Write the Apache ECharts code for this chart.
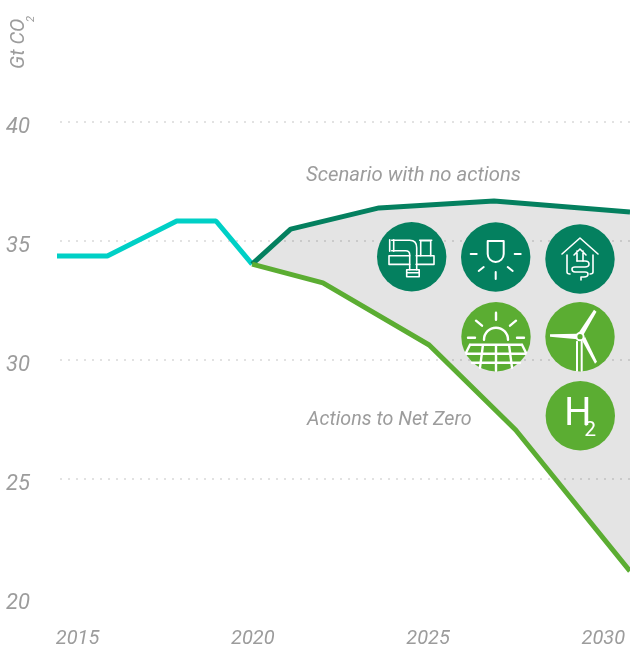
<!DOCTYPE html>
<html><head><meta charset="utf-8">
<style>html,body{margin:0;padding:0;background:#fff}#c{width:630px;height:648px}</style>
<script src="https://cdn.jsdelivr.net/npm/echarts@6/dist/echarts.min.js"></script>
</head><body><div id="c"></div>
<script>
const xTicks = [2015, 2020, 2025, 2030];
const yTicks = [20, 25, 30, 35, 40];
const historyYears = [2014.35, 2015.85, 2017.83, 2018.95, 2019.98];
const historyValues = [34.37, 34.37, 35.84, 35.84, 34.03];
const noActionYears = [2019.98, 2021.08, 2023.6, 2026.88, 2030.76];
const noActionValues = [34.03, 35.5, 36.39, 36.68, 36.22];
const netZeroYears = [2019.98, 2022, 2025.03, 2027.5, 2030.76];
const netZeroValues = [34.03, 33.24, 30.63, 27.06, 21.13];

const FONT = 'Roboto,sans-serif';
const GREY = '#9c9c9c', DARK = '#04805f', LIGHT = '#5bad32', CYAN = '#00d0c6';
const zip = (a, b) => a.map((v, i) => [v, b[i]]);

function line(pathData, w) {
  return {type:'path', shape:{pathData}, style:{fill:null, stroke:'#fff', lineWidth:w||1.6, lineCap:'round', lineJoin:'round'}};
}
function fillPath(pathData) {
  return {type:'path', shape:{pathData}, style:{fill:'#fff', stroke:null}};
}
function icon(x, y, color, kids) {
  return {type:'group', x, y, children:[{type:'circle', shape:{cx:0, cy:0, r:34.7}, style:{fill:color}}].concat(kids)};
}

const icons = [
  icon(411.7, 256.7, DARK, [
    line('M-22.7,-1 H-2 M4.5,-1 H22.3 V7.7 H4.5 M-2,7.7 H-22.7 V-1'),
    line('M-20,-16.5 H-2 Q5,-16.5 5,-9 V13 M-20,-6 H-6 Q-2,-6 -2,-2 V13'),
    line('M-22,-17 V-5.5 M-18,-17 V-5.5'),
    line('M-5,13 H7.5 V20 H-5 Z M-4,16 H7'),
    line('M9,-16 H19 V-1 M9,-16 V-1 M8,-16.5 H20')
  ]),
  icon(495.7, 257, DARK, [
    line('M-8,-16 H8 V-3 A8,8 0 0 1 -8,-3 Z', 2),
    line('M-25,-3 H-19 M19,-3 H25 M0,15 V22 M-17,14 L-12,10 M17,14 L12,10', 2)
  ]),
  icon(580, 259, DARK, [
    line('M-18,-5 L0,-21 L18,-5'),
    line('M-13,-4 V13 Q-13,15 -10,15 M13,-4 V13 Q13,15 10,15'),
    line('M-6,-4 L0,-10 L6,-4 M-3,-8 V2 M3,-8 V2'),
    line('M-3,2 H5 Q9,2 9,5 Q9,8 5,8 H-5 Q-8,8 -8,10 Q-8,13 -5,13 H5 Q8,13 8,15 Q8,18 4,18 H1 V21')
  ]),
  icon(496, 336.7, LIGHT, [
    line('M0,-24 V-17 M-20,-16 L-14,-11 M20,-16 L14,-11 M-28,1 H-21 M28,1 H21 M-12,3 A12,12 0 0 1 12,3', 2.4),
    line('M-26,8 H26 M-29.5,17 H29.5 M-24,26 H24 M-13,8 L-16,31 M0,8 V34 M13,8 L16,31 M-26,8 L-30,16 M26,8 L30,16', 2.4)
  ]),
  icon(580, 336.7, LIGHT, [
    fillPath('M-2,-3 L14,-27 L16.5,-25 L3.5,-2 Z'),
    fillPath('M-3,-3 L-30,-2.5 L-30,0 L-2.5,2.5 Z'),
    fillPath('M2,3.5 L15,27 L17,25 L5,0 Z'),
    {type:'circle', shape:{cx:0, cy:0, r:3.6}, style:{fill:LIGHT, stroke:'#fff', lineWidth:2}},
    line('M-3,5 V34 M1.7,5 V34', 2)
  ]),
  icon(580.3, 415.7, LIGHT, [
    {type:'text', style:{x:-16, y:0, text:'H', font:'400 38px Roboto', fill:'#fff', verticalAlign:'middle'}},
    {type:'text', style:{x:4, y:15, text:'2', font:'400 21px Roboto', fill:'#fff', verticalAlign:'middle'}}
  ])
];

const chart = echarts.init(document.getElementById('c'), null, {renderer:'canvas'});
chart.setOption({
  animation:false,
  backgroundColor:'#fff',
  grid:{left:60, right:0, top:122, bottom:50, outerBoundsMode:'none'},
  xAxis:{type:'value', min:2014.5, max:2030.76, axisLine:{show:false}, axisTick:{show:false}, splitLine:{show:false},
    axisLabel:{customValues:xTicks, fontFamily:FONT, fontStyle:'italic', fontSize:20, color:GREY, margin:31, hideOverlap:false,
      formatter:v=>String(v)}},
  yAxis:{type:'value', min:20, max:40, interval:5, axisLine:{show:false}, axisTick:{show:false},
    axisLabel:{fontFamily:FONT, fontStyle:'italic', fontSize:22, color:GREY, margin:54, align:'left', verticalAlign:'top', lineHeight:10,
      formatter:v=>String(v), showMinLabel:true, showMaxLabel:true},
    splitLine:{showMinLine:false, show:true, lineStyle:{color:'#e2e2e2', width:2, type:[2,6]}}},
  graphic:[
    {type:'group', x:29, y:69, rotation:Math.PI/2, z:10, children:[
      {type:'text', x:0, y:0, style:{text:'Gt CO', font:'italic 20px '+FONT, fill:GREY, textAlign:'left', textVerticalAlign:'bottom'}},
      {type:'text', x:47, y:8, style:{text:'2', font:'italic 11px '+FONT, fill:GREY, textAlign:'left', textVerticalAlign:'bottom'}}
    ]},
    {type:'text', x:306, y:166, z:10, style:{text:'Scenario with no actions', font:'italic 20.3px '+FONT, fill:GREY}},
    {type:'text', x:307, y:410, z:10, style:{text:'Actions to Net Zero', font:'italic 19.7px '+FONT, fill:GREY}}
  ],
  series:[
    {type:'custom', silent:true, z:1, clip:false, coordinateSystem:'cartesian2d',
      data:zip(noActionYears, noActionValues).concat(zip(netZeroYears, netZeroValues).reverse()),
      encode:{x:0, y:1},
      renderItem:(p, api)=>{
        if (p.dataIndex !== 0) return null;
        const pts = zip(noActionYears, noActionValues).concat(zip(netZeroYears, netZeroValues).reverse()).map(d=>api.coord(d));
        return {type:'polygon', shape:{points:pts}, style:{fill:'rgba(0,0,0,0.105)'}};
      }},
    {type:'line', name:'History', data:zip(historyYears, historyValues), symbol:'none', clip:false, z:3, lineStyle:{color:CYAN, width:5}},
    {type:'line', name:'Scenario with no actions', data:zip(noActionYears, noActionValues), symbol:'none', clip:false, z:3, lineStyle:{color:DARK, width:5}},
    {type:'line', name:'Actions to Net Zero', data:zip(netZeroYears, netZeroValues), symbol:'none', clip:false, z:4, lineStyle:{color:LIGHT, width:5}},
    {type:'custom', silent:true, z:10, coordinateSystem:'none', data:[[0]],
      renderItem:()=>({type:'group', children:icons})}
  ]
});
</script></body></html>
